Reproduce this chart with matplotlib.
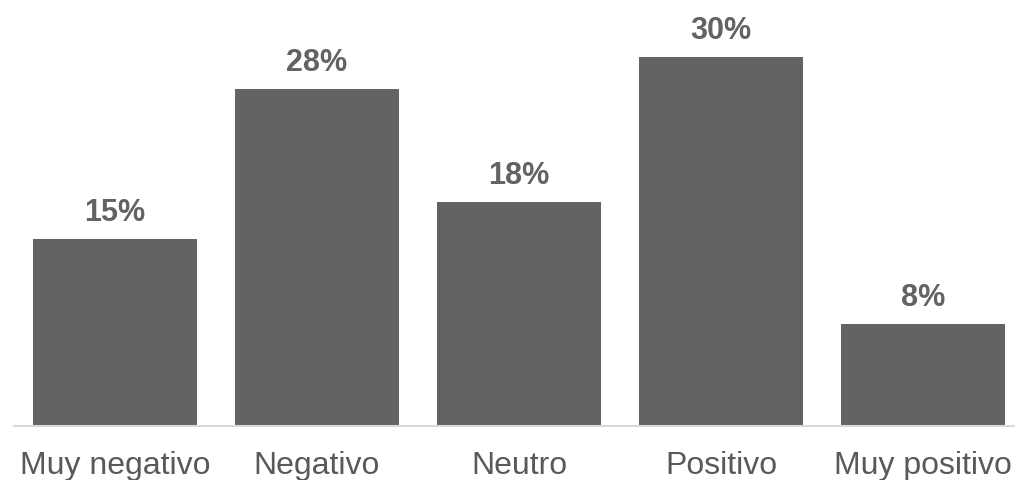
import matplotlib
matplotlib.use('Agg')
import matplotlib.pyplot as plt

# data
categories = ['Muy negativo', 'Negativo', 'Neutro', 'Positivo', 'Muy positivo']
values = [15.2, 27.4, 18.2, 30.0, 8.3]
value_labels = ['15%', '28%', '18%', '30%', '8%']

plt.rcParams['font.family'] = ['Liberation Sans', 'DejaVu Sans']

fig = plt.figure(figsize=(10.15, 4.8), dpi=100)
ax = fig.add_axes([14 / 1015, 54 / 480, 1010 / 1015, 369 / 480])

bars = ax.bar(range(len(categories)), values, width=0.81, color='#636363', zorder=2)

# data labels above bars
for rect, lab in zip(bars, value_labels):
    ax.annotate(lab, (rect.get_x() + rect.get_width() / 2, rect.get_height()),
                xytext=(0, 8), textcoords='offset points',
                ha='center', va='bottom', fontsize=22, fontweight='bold',
                color='#636363', annotation_clip=False)

ax.set_xlim(-0.5, len(categories) - 0.5)
ax.set_ylim(0, 30)
ax.set_xticks(range(len(categories)))
ax.set_xticklabels(categories, fontsize=23, color='#595959')
ax.tick_params(axis='x', length=0, pad=18)
ax.set_yticks([])

for s in ['top', 'right', 'left']:
    ax.spines[s].set_visible(False)
ax.spines['bottom'].set_color('#d9d9d9')
ax.spines['bottom'].set_linewidth(1.5)

fig.savefig('out.png', dpi=100)
